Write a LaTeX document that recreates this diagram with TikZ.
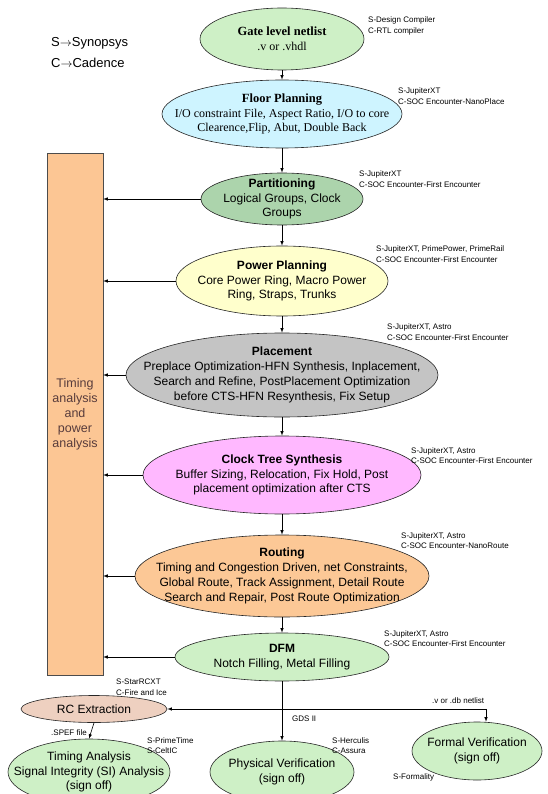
\documentclass[tikz,border=0pt]{standalone}
\usepackage{fontspec}
\setmainfont{Liberation Sans}
\newfontfamily\timesface{Liberation Serif}
\usepackage{tikz}
\usetikzlibrary{arrows,positioning,shapes.geometric}

\definecolor{netgreen}{RGB}{206,240,198}
\definecolor{floorcyan}{RGB}{206,244,255}
\definecolor{partgreen}{RGB}{172,212,172}
\definecolor{poweryellow}{RGB}{255,255,204}
\definecolor{placegray}{RGB}{196,196,196}
\definecolor{ctspink}{RGB}{255,184,255}
\definecolor{routeorange}{RGB}{252,200,150}
\definecolor{rcpink}{RGB}{238,208,192}
\definecolor{boxpeach}{RGB}{252,198,148}
\definecolor{boxtext}{RGB}{88,60,60}

\newcommand{\stage}[7]{
  % ellipse #1 centred at (#2,#3) with half axes #4 and #5, filled with #6
  % the text #7 sits in its own node so that it may overrun the outline
  \node[stage, fill=#6, minimum width=2*#4, minimum height=2*#5] (#1) at (#2,#3) {};
  \node[stagetext] (#1-text) at (#1) {#7};
}

\begin{document}
\begin{tikzpicture}[x=1pt,y=-1pt,>=latex,
    stage/.style={ellipse, draw=black!85, line width=0.6pt, inner sep=0pt},
    stagetext/.style={align=center, inner sep=0pt, font=\fontsize{12}{14.8}\selectfont},
    tool/.style={anchor=north west, align=left, inner sep=0pt, font=\fontsize{8}{10.5}\selectfont},
    flow/.style={->, line width=0.6pt}]
  \useasboundingbox (0,0) rectangle (547,794);

  % legend
  \node[anchor=north west, align=left, inner sep=0pt, font=\fontsize{13}{21}\selectfont]
    (legend) at (51,37) {S$\rightarrow$Synopsys\\C$\rightarrow$Cadence};

  % main flow
  \stage{gate}{282}{39}{82}{31}{netgreen}{\timesface\fontsize{12.5}{15}\selectfont\textbf{Gate level netlist}\\\timesface .v or .vhdl}
  \stage{floor}{282}{114}{120}{34}{floorcyan}{\timesface\fontsize{12}{15}\selectfont\textbf{\fontsize{12.5}{15}\selectfont Floor Planning}\\\timesface I/O constraint File, Aspect Ratio, I/O to core\\\timesface Clearence,Flip, Abut, Double Back}
  \stage{part}{282}{199}{81}{26}{partgreen}{\textbf{Partitioning}\\Logical Groups, Clock\\Groups}
  \stage{power}{282}{281}{106}{35}{poweryellow}{\textbf{Power Planning}\\Core Power Ring, Macro Power\\Ring, Straps, Trunks}
  \stage{place}{282}{375}{156}{42}{placegray}{\textbf{Placement}\\Preplace Optimization-HFN Synthesis, Inplacement,\\Search and Refine, PostPlacement Optimization\\before CTS-HFN Resynthesis, Fix Setup}
  \stage{cts}{282}{475}{139}{39}{ctspink}{\textbf{Clock Tree Synthesis}\\Buffer Sizing, Relocation, Fix Hold, Post\\placement optimization after CTS}
  \stage{route}{282}{576}{147}{41}{routeorange}{\textbf{Routing}\\Timing and Congestion Driven, net Constraints,\\Global Route, Track Assignment,  Detail Route\\Search and Repair, Post Route Optimization}
  \stage{dfm}{282}{657}{107}{24}{netgreen}{\textbf{DFM}\\Notch Filling, Metal Filling}

  % sign off stages
  \stage{rc}{94}{709}{73}{13.5}{rcpink}{RC Extraction}
  \stage{ta}{89}{772}{81}{33}{netgreen}{Timing Analysis\\Signal Integrity (SI) Analysis\\(sign off)}
  \stage{pv}{282}{772}{72}{31}{netgreen}{Physical Verification\\(sign off)}
  \stage{fv}{477}{751}{65}{29}{netgreen}{Formal Verification\\(sign off)}

  % timing and power analysis column
  \node[draw=black!70, fill=boxpeach, minimum width=56, minimum height=522, inner sep=0pt,
        align=center, text=boxtext, font=\fontsize{12.5}{15}\selectfont]
    (tbox) at (75,414) {Timing\\analysis\\and\\power\\analysis};

  \foreach \a/\b in {gate/floor,floor/part,part/power,power/place,place/cts,cts/route,route/dfm,dfm/pv}
    \draw[flow] (\a.south) -- (\b.north);
  \foreach \s in {part,power,place,cts,route,dfm}
    \draw[flow] (\s.west) -- (\s.west -| tbox.east);

  \coordinate (netjoin) at (486,709);
  \draw[flow] (netjoin) -- (rc.east);
  \draw[flow] (netjoin) -- (netjoin |- fv.north);
  \draw[flow] (rc.south) -- (ta.north);

  % tools beside each stage
  \foreach \n/\x/\y/\t in {
      gatetool/368/17/{S-Design Compiler\\C-RTL compiler},
      floortool/398/88/{S-JupiterXT\\C-SOC Encounter-NanoPlace},
      parttool/359/171/{S-JupiterXT\\C-SOC Encounter-First Encounter},
      powertool/376/246/{S-JupiterXT, PrimePower, PrimeRail\\C-SOC Encounter-First Encounter},
      placetool/387/324/{S-JupiterXT, Astro\\C-SOC Encounter-First Encounter},
      ctstool/411/447/{S-JupiterXT, Astro\\C-SOC Encounter-First Encounter},
      routetool/401/532/{S-JupiterXT, Astro\\C-SOC Encounter-NanoRoute},
      dfmtool/384/630/{S-JupiterXT, Astro\\C-SOC Encounter-First Encounter},
      rctool/116/679/{S-StarRCXT\\C-Fire and Ice},
      tatool/147/737/{S-PrimeTime\\S-CeltIC},
      pvtool/332/737/{S-Herculis\\C-Assura},
      fvtool/393/773/{S-Formality}}
    \node[tool] (\n) at (\x,\y) {\t};

  % connector labels
  \node[tool] (netlabel) at (432,697) {.v or .db netlist};
  \node[tool] (gdslabel) at (292,716) {GDS II};
  \node[tool] (speflabel) at (51,729) {.SPEF file};
\end{tikzpicture}
\end{document}
